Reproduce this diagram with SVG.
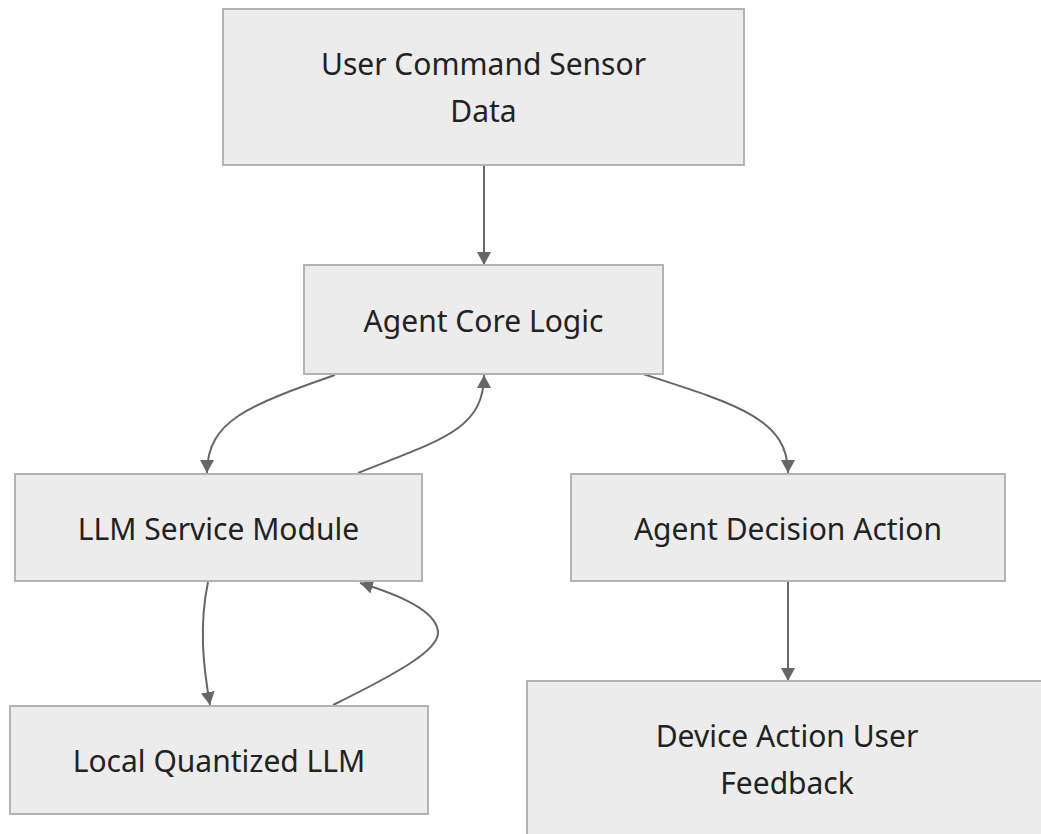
<svg xmlns="http://www.w3.org/2000/svg" width="1041" height="834" viewBox="0 0 1041 834">
  <style>
    .node rect { fill: #ececec; stroke: #b3b3b3; stroke-width: 2; }
    .node text { font-family: "Noto Sans", "Open Sans", sans-serif; font-size: 30px; fill: #222; text-anchor: middle; dominant-baseline: central; }
    .edge { fill: none; stroke: #666; stroke-width: 2; marker-end: url(#arrow); }
  </style>
  <defs>
    <marker id="arrow" markerUnits="userSpaceOnUse" markerWidth="14" markerHeight="14" refX="13" refY="7" orient="auto">
      <path d="M0,0 L13,7 L0,14 z" fill="#666"/>
    </marker>
  </defs>
  <rect width="1041" height="834" fill="#fff"/>

  <g id="connectors">
    <path class="edge" d="M484,165 L484,265"/>
    <path class="edge" d="M335,375 C250,405 207,420 207,473"/>
    <path class="edge" d="M358,473 C440,440 484,430 484,375"/>
    <path class="edge" d="M643,374 C740,405 788,420 788,473"/>
    <path class="edge" d="M208,582 C199,625 203,665 210,705"/>
    <path class="edge" d="M333,705 C400,672 438,650 438,633 C438,612 400,595 360,583"/>
    <path class="edge" d="M788,581 L788,681"/>
  </g>

  <g id="n-input" class="node">
    <rect x="223" y="9" width="521" height="156"/>
    <text x="483.5" y="63">User Command Sensor</text>
    <text x="483.5" y="110">Data</text>
  </g>
  <g id="n-core" class="node">
    <rect x="304" y="265" width="359" height="109"/>
    <text x="483.5" y="320">Agent Core Logic</text>
  </g>
  <g id="n-llm-service" class="node">
    <rect x="15" y="474" width="407" height="107"/>
    <text x="218.5" y="528">LLM Service Module</text>
  </g>
  <g id="n-decision" class="node">
    <rect x="571" y="474" width="434" height="107"/>
    <text x="788" y="528">Agent Decision Action</text>
  </g>
  <g id="n-local-llm" class="node">
    <rect x="10" y="706" width="418" height="108"/>
    <text x="219" y="760">Local Quantized LLM</text>
  </g>
  <g id="n-output" class="node">
    <rect x="527" y="681" width="520" height="156"/>
    <text x="787" y="735">Device Action User</text>
    <text x="787" y="782">Feedback</text>
  </g>
</svg>
